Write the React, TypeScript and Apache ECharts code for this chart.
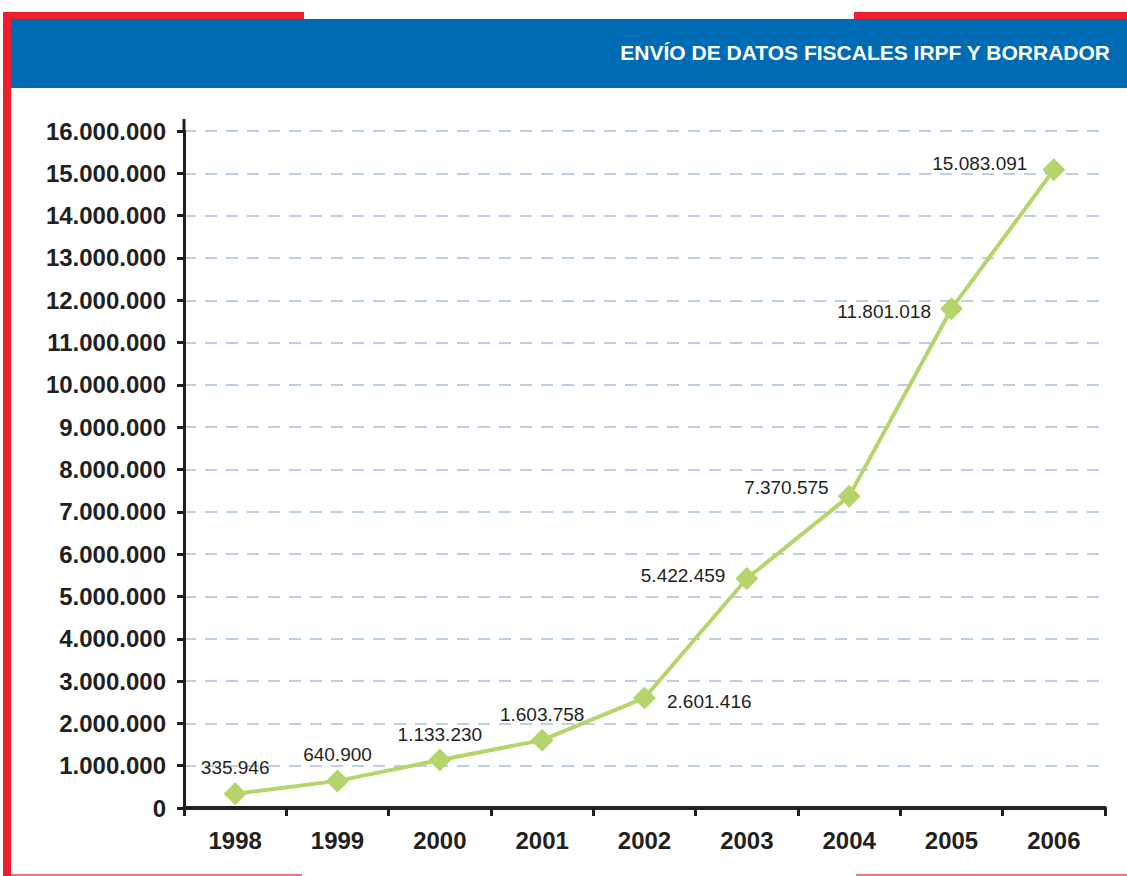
import React, { useEffect, useRef } from "react";
import * as echarts from "echarts";

const years = ["1998", "1999", "2000", "2001", "2002", "2003", "2004", "2005", "2006"];
const envios = [335946, 640900, 1133230, 1603758, 2601416, 5422459, 7370575, 11801018, 15083091];
const yMin = 0;
const yMax = 16000000;
const yStep = 1000000;
const titleText = "ENVÍO DE DATOS FISCALES IRPF Y BORRADOR";

// label placement per point (style only)
const labelStyles: { position: string; distance: number; offset: [number, number] }[] = [
  { position: "top", distance: 5, offset: [0, 0] },
  { position: "top", distance: 5, offset: [0, 0] },
  { position: "top", distance: 5, offset: [0, 0] },
  { position: "top", distance: 5, offset: [0, 0] },
  { position: "right", distance: 11, offset: [0, 4] },
  { position: "left", distance: 10, offset: [0, -3] },
  { position: "left", distance: 9, offset: [0, -9] },
  { position: "left", distance: 9, offset: [0, 3] },
  { position: "left", distance: 15, offset: [0, -6] },
];

const fmt = (v: number) => String(Math.round(v)).replace(/\B(?=(\d{3})+(?!\d))/g, ".");

const FONT = "'Liberation Sans', Arial, Helvetica, sans-serif";
const DARK = "#231f20";
const RED = "#ed1c2e";
const BLUE = "#006bb5";
const GREEN = "#b6d46c";
const GRID = "#a7bee6";

export default function App() {
  const ref = useRef<HTMLDivElement>(null);
  useEffect(() => {
    if (!ref.current) return;
    const chart = echarts.init(ref.current, null, { renderer: "svg" });
    chart.setOption({
      animation: false,
      backgroundColor: "#ffffff",
      grid: { left: 184, right: 22, top: 131, bottom: 68, containLabel: false },
      graphic: [
        { type: "rect", shape: { x: 3, y: 12, width: 301, height: 8 }, style: { fill: RED }, z: 1 },
        { type: "rect", shape: { x: 854, y: 12, width: 273, height: 8 }, style: { fill: RED }, z: 1 },
        { type: "rect", shape: { x: 3, y: 12, width: 8, height: 864 }, style: { fill: RED }, z: 1 },
        { type: "rect", shape: { x: 11, y: 19, width: 1116, height: 69 }, style: { fill: BLUE }, z: 2 },
        { type: "rect", shape: { x: 11, y: 874, width: 291, height: 2 }, style: { fill: "#ee7480" }, z: 1 },
        { type: "rect", shape: { x: 856, y: 874, width: 271, height: 2 }, style: { fill: "#ee7480" }, z: 1 },
        {
          type: "text",
          x: 1110,
          y: 52,
          z: 3,
          style: {
            text: titleText,
            fill: "#ffffff",
            font: `bold 21px ${FONT}`,
            align: "right",
            verticalAlign: "middle",
          },
        },
        {
          type: "line",
          shape: { x1: 184, y1: 119, x2: 184, y2: 132 },
          style: { stroke: DARK, lineWidth: 3 },
          z: 3,
        },
      ],
      xAxis: {
        type: "category",
        data: years,
        boundaryGap: true,
        axisLine: { show: true, lineStyle: { color: DARK, width: 4 } },
        axisTick: { show: true, length: 8, lineStyle: { color: DARK, width: 3 } },
        axisLabel: {
          margin: 20,
          color: DARK,
          fontFamily: FONT,
          fontWeight: "bold",
          fontSize: 24,
        },
        splitLine: { show: false },
      },
      yAxis: {
        type: "value",
        min: yMin,
        max: yMax,
        interval: yStep,
        axisLine: { show: true, lineStyle: { color: DARK, width: 3 } },
        axisTick: { show: true, length: 7, lineStyle: { color: DARK, width: 3 } },
        axisLabel: {
          margin: 18,
          color: DARK,
          fontFamily: FONT,
          fontWeight: "bold",
          fontSize: 24,
          formatter: (v: number) => fmt(v),
        },
        splitLine: {
          show: true,
          lineStyle: { color: GRID, width: 1.5, type: [12, 9] },
        },
      },
      series: [
        {
          type: "line",
          data: envios.map((v, i) => ({
            value: v,
            label: {
              show: true,
              position: labelStyles[i].position,
              distance: labelStyles[i].distance,
              offset: labelStyles[i].offset,
            },
          })),
          symbol: "diamond",
          symbolSize: 23,
          lineStyle: { color: GREEN, width: 4 },
          itemStyle: { color: GREEN },
          label: {
            show: true,
            color: DARK,
            fontFamily: FONT,
            fontSize: 19,
            formatter: (p: any) => fmt(p.value),
          },
          z: 5,
        },
      ],
    });
    return () => chart.dispose();
  }, []);
  return (
    <div
      ref={ref}
      style={{ position: "fixed", left: 0, top: 0, width: 1127, height: 876, background: "#fff" }}
    />
  );
}
